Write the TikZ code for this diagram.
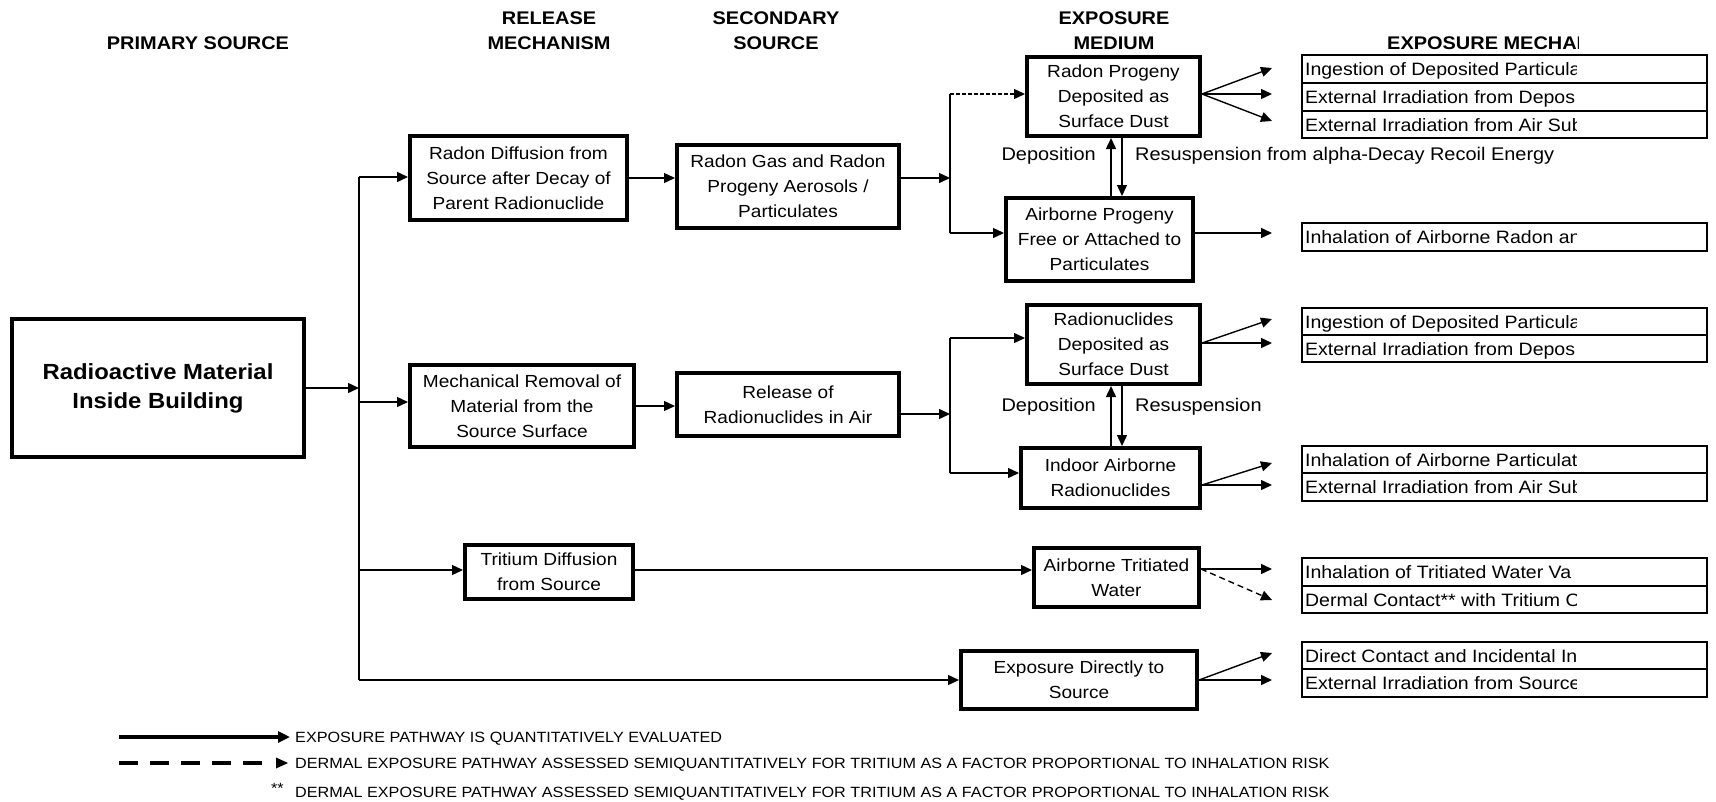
\documentclass[tikz,border=0pt]{standalone}
\usepackage{fontspec}
\setmainfont{Liberation Sans}[FakeStretch=1.09]
\usetikzlibrary{arrows.meta,calc}
\begin{document}
\begin{tikzpicture}[x=1pt,y=-1pt,
  box/.style={draw, line width=4pt, align=center, inner sep=0pt, font=\fontsize{17.5}{25}\selectfont},
  rowbox/.style={draw, line width=2.2pt, minimum width=405pt, inner sep=0pt},
  rowtext/.style={anchor=base west, inner sep=0pt, font=\fontsize{17.9}{24}\selectfont},
  hdr/.style={align=center, inner sep=0pt, font=\bfseries\fontsize{18.3}{25}\selectfont},
  lbl/.style={inner sep=0pt, font=\fontsize{18.3}{24}\selectfont},
  conn/.style={line width=1.4pt},
  arr/.style={conn, -{Triangle[length=11pt,width=10pt]}},
  fdash/.style={arr, dash pattern=on 4pt off 2pt},
  ddash/.style={arr, dash pattern=on 6pt off 4pt},
  leg/.style={anchor=base west, inner sep=0pt, font=\fontsize{14.85}{18}\selectfont},
]
\useasboundingbox (0,0) rectangle (1716,801);

% headers
\node[hdr] (h1) at (198,43) {PRIMARY SOURCE};
\node[hdr] (h2) at (549,31) {RELEASE\\MECHANISM};
\node[hdr] (h3) at (776,31) {SECONDARY\\SOURCE};
\node[hdr] (h4) at (1114,31) {EXPOSURE\\MEDIUM};
\begin{scope}
  \clip (0,0) rectangle (1578,801);
  \node[hdr, anchor=west] (h5) at (1387,43) {EXPOSURE MECHANISM};
\end{scope}

% main boxes
\node[box, font=\bfseries\fontsize{21.9}{29}\selectfont, minimum width=292pt, minimum height=138pt] (src) at (158,388) {Radioactive Material\\Inside Building};
\node[box, minimum width=217pt, minimum height=84pt] (rd) at (518.5,178) {Radon Diffusion from\\Source after Decay of\\Parent Radionuclide};
\node[box, minimum width=224pt, minimum height=82pt] (mr) at (522,406) {Mechanical Removal of\\Material from the\\Source Surface};
\node[box, minimum width=168pt, minimum height=54pt] (td) at (549,572) {Tritium Diffusion\\from Source};
\node[box, minimum width=222pt, minimum height=83pt] (rg) at (788,186.5) {Radon Gas and Radon\\Progeny Aerosols /\\Particulates};
\node[box, minimum width=222pt, minimum height=63pt] (rel) at (788,404.5) {Release of\\Radionuclides in Air};
\node[box, minimum width=173pt, minimum height=79pt] (rp) at (1113.5,96.5) {Radon Progeny\\Deposited as\\Surface Dust};
\node[box, minimum width=187pt, minimum height=83pt] (ap) at (1099.5,239.5) {Airborne Progeny\\Free or Attached to\\Particulates};
\node[box, minimum width=173pt, minimum height=79pt] (rn) at (1113.5,344.5) {Radionuclides\\Deposited as\\Surface Dust};
\node[box, minimum width=179pt, minimum height=60pt] (ia) at (1110.5,478) {Indoor Airborne\\Radionuclides};
\node[box, minimum width=165pt, minimum height=59pt] (at) at (1116.5,577.5) {Airborne Tritiated\\Water};
\node[box, minimum width=236pt, minimum height=58pt] (ed) at (1079,680) {Exposure Directly to\\Source};

% junction coordinates
\coordinate (ja) at (359,177);
\coordinate (jb) at (359,388);
\coordinate (jc) at (359,402);
\coordinate (jd) at (359,570);
\coordinate (je) at (359,680);
\coordinate (jf) at (950,178);
\coordinate (jg) at (950,94);
\coordinate (jh) at (950,233);
\coordinate (ji) at (950,414);
\coordinate (jj) at (950,338);
\coordinate (jk) at (950,473);

\draw[conn] (ja) -- (je);
\draw[arr] (src.east) -- (jb);
\draw[arr] (ja) -- (ja -| rd.west);
\draw[arr] (jc) -- (jc -| mr.west);
\draw[arr] (jd) -- (jd -| td.west);
\draw[arr] (je) -- (je -| ed.west);

\draw[arr] (rd.east) -- (rd.east -| rg.west);
\draw[arr] (jf -| rg.east) -- (jf);
\draw[conn] (jg) -- (jh);
\draw[fdash] (jg) -- (jg -| rp.west);
\draw[arr] (jh) -- (jh -| ap.west);

\draw[arr] (mr.east) -- (mr.east -| rel.west);
\draw[arr] (ji -| rel.east) -- (ji);
\draw[conn] (jj) -- (jk);
\draw[arr] (jj) -- (jj -| rn.west);
\draw[arr] (jk) -- (jk -| ia.west);

\draw[arr] (jd -| td.east) -- (jd -| at.west);

% deposition / resuspension
\coordinate (dx) at (1111,0);
\coordinate (rx) at (1122,0);
\draw[arr] (dx |- ap.north) -- (dx |- rp.south);
\draw[arr] (rx |- rp.south) -- (rx |- ap.north);
\draw[arr] (dx |- ia.north) -- (dx |- rn.south);
\draw[arr] (rx |- rn.south) -- (rx |- ia.north);
\node[lbl, anchor=east] (dl1) at (1096,156) {Deposition};
\node[lbl, anchor=west] (rl1) at (1135,156) {Resuspension from alpha-Decay Recoil Energy};
\node[lbl, anchor=east] (dl2) at (1096,407) {Deposition};
\node[lbl, anchor=west] (rl2) at (1135,407) {Resuspension};

% fan tips
\coordinate (t1) at (1272,68);
\coordinate (t2) at (1272,94);
\coordinate (t3) at (1272,121);
\coordinate (t4) at (1272,233);
\coordinate (t5) at (1272,319);
\coordinate (t6) at (1272,343);
\coordinate (t7) at (1272,463);
\coordinate (t8) at (1272,485);
\coordinate (t9) at (1272,569);
\coordinate (t10) at (1272,600);
\coordinate (t11) at (1272,653);
\coordinate (t12) at (1272,680);

\draw[arr] (rp.east |- t2) -- (t1);
\draw[arr] (rp.east |- t2) -- (t2);
\draw[arr] (rp.east |- t2) -- (t3);
\draw[arr] (ap.east |- t4) -- (t4);
\draw[arr] (rn.east |- t6) -- (t5);
\draw[arr] (rn.east |- t6) -- (t6);
\draw[arr] (ia.east |- t8) -- (t7);
\draw[arr] (ia.east |- t8) -- (t8);
\draw[arr] (at.east |- t9) -- (t9);
\draw[ddash] (at.east |- t9) -- (t10);
\draw[arr] (ed.east) -- (t11);
\draw[arr] (ed.east) -- (t12);

% exposure mechanism rows
\node[rowbox, minimum height=28pt] (a1) at (1504.5,69) {};
\node[rowbox, minimum height=28pt] (a2) at (1504.5,97) {};
\node[rowbox, minimum height=27pt] (a3) at (1504.5,124.5) {};
\node[rowbox, minimum height=28pt] (b1) at (1504.5,237) {};
\node[rowbox, minimum height=27pt] (c1) at (1504.5,321.5) {};
\node[rowbox, minimum height=27pt] (c2) at (1504.5,348.5) {};
\node[rowbox, minimum height=27pt] (d1) at (1504.5,459.5) {};
\node[rowbox, minimum height=28pt] (d2) at (1504.5,487) {};
\node[rowbox, minimum height=28pt] (e1) at (1504.5,572) {};
\node[rowbox, minimum height=27pt] (e2) at (1504.5,599.5) {};
\node[rowbox, minimum height=27pt] (f1) at (1504.5,655.5) {};
\node[rowbox, minimum height=28pt] (f2) at (1504.5,683) {};

\begin{scope}
  \clip (0,0) rectangle (1576,801);
  \node[rowtext] (ta1) at ([xshift=4pt,yshift=-6.8pt]a1.west) {Ingestion of Deposited Particula};
  \node[rowtext] (ta2) at ([xshift=4pt,yshift=-6.8pt]a2.west) {External Irradiation from Depos};
  \node[rowtext] (ta3) at ([xshift=4pt,yshift=-6.8pt]a3.west) {External Irradiation from Air Sub};
  \node[rowtext] (tb1) at ([xshift=4pt,yshift=-6.8pt]b1.west) {Inhalation of Airborne Radon an};
  \node[rowtext] (tc1) at ([xshift=4pt,yshift=-6.8pt]c1.west) {Ingestion of Deposited Particula};
  \node[rowtext] (tc2) at ([xshift=4pt,yshift=-6.8pt]c2.west) {External Irradiation from Depos};
  \node[rowtext] (td1) at ([xshift=4pt,yshift=-6.8pt]d1.west) {Inhalation of Airborne Particulat};
  \node[rowtext] (td2) at ([xshift=4pt,yshift=-6.8pt]d2.west) {External Irradiation from Air Sub};
  \node[rowtext] (te1) at ([xshift=4pt,yshift=-6.8pt]e1.west) {Inhalation of Tritiated Water Va};
  \node[rowtext] (te2) at ([xshift=4pt,yshift=-6.8pt]e2.west) {Dermal Contact** with Tritium O};
  \node[rowtext] (tf1) at ([xshift=4pt,yshift=-6.8pt]f1.west) {Direct Contact and Incidental In};
  \node[rowtext] (tf2) at ([xshift=4pt,yshift=-6.8pt]f2.west) {External Irradiation from Source};
\end{scope}

% legend
\coordinate (la) at (119,737);
\coordinate (lb) at (290,737);
\draw[line width=4pt, -{Triangle[length=12pt,width=11pt]}] (la) -- (lb);
\coordinate (lc) at (119,763);
\coordinate (ld) at (263,763);
\draw[line width=4pt, dash pattern=on 19pt off 12pt] (lc) -- (ld);
\coordinate (le) at (276,757.5);
\coordinate (lf) at (288,763);
\coordinate (lg) at (276,768.5);
\fill (le) -- (lf) -- (lg) -- cycle;
\node[leg] (lt1) at (295,742.5) {EXPOSURE PATHWAY IS QUANTITATIVELY EVALUATED};
\node[leg] (lt2) at (295,768) {DERMAL EXPOSURE PATHWAY ASSESSED SEMIQUANTITATIVELY FOR TRITIUM AS A FACTOR PROPORTIONAL TO INHALATION RISK};
\node[leg] (ls) at (271,793) {**};
\node[leg] (lt3) at (295,797) {DERMAL EXPOSURE PATHWAY ASSESSED SEMIQUANTITATIVELY FOR TRITIUM AS A FACTOR PROPORTIONAL TO INHALATION RISK};
\end{tikzpicture}
\end{document}
